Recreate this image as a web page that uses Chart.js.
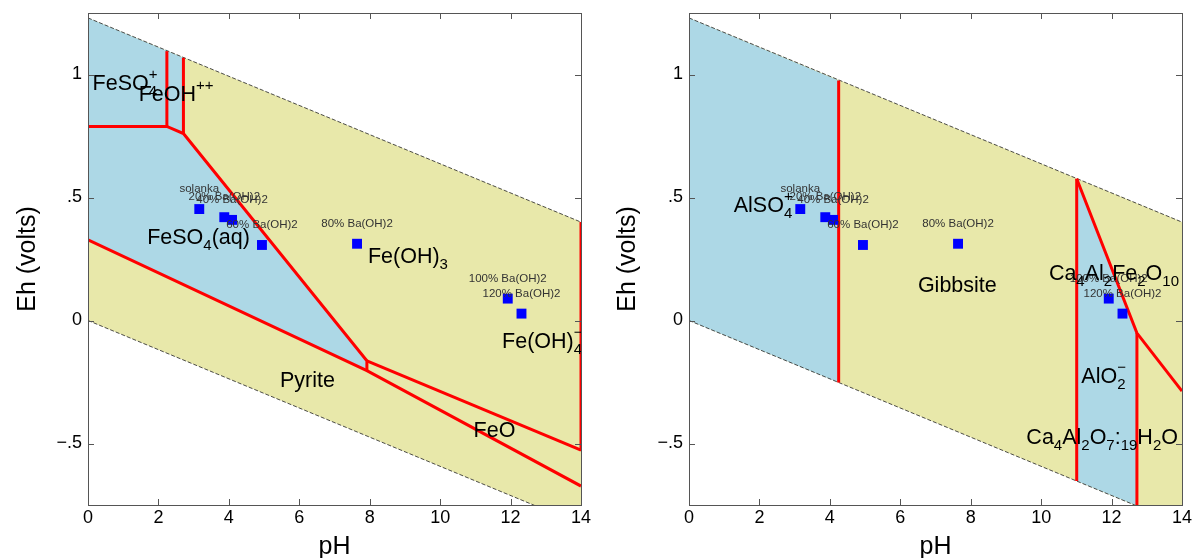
<!DOCTYPE html>
<html>
<head>
<meta charset="utf-8">
<script src="https://cdn.jsdelivr.net/npm/chart.js@4.4.1/dist/chart.umd.min.js"></script>
<style>
  html, body { margin: 0; padding: 0; background: #fff; }
  #wrap { position: relative; width: 1195px; height: 558px; }
  .panel { position: absolute; top: 0; height: 558px; }
</style>
</head>
<body>
<div id="wrap">
  <div class="panel" style="left:0;width:600px"><canvas id="feChart" width="600" height="558"></canvas></div>
  <div class="panel" style="left:600px;width:595px"><canvas id="alChart" width="595" height="558"></canvas></div>
</div>
<script>
// axis ticks
const phTicks      = [0, 2, 4, 6, 8, 10, 12, 14];
const ehTicks      = [-0.5, 0, 0.5, 1];
const ehTickLabels = ['\u2212.5', '0', '.5', '1'];

// samples (same points on both diagrams)
const sampleNames = ['solanka', '20% Ba(OH)2', '40% Ba(OH)2', '60% Ba(OH)2', '80% Ba(OH)2', '100% Ba(OH)2', '120% Ba(OH)2'];
const samplePH    = [3.16, 3.87, 4.09, 4.94, 7.64, 11.92, 12.31];
const sampleEh    = [0.453, 0.420, 0.409, 0.307, 0.312, 0.089, 0.028];

// water stability limits
const waterUpper = [[0, 1.23], [14, 0.40]];
const waterLower = [[0, 0], [14, -0.83]];
const waterField = [[0, 1.23], [14, 0.40], [14, -0.83], [0, 0]];

// Fe diagram
const feBlueFields = [
    [[0, 1.23], [2.71, 1.068], [2.71, 0.76], [7.92, -0.164], [7.92, -0.204], [0, 0.328]]
];
const feBoundaries = [
    [[0, 0.789], [2.24, 0.789], [2.71, 0.76], [7.92, -0.164], [7.92, -0.204]],
    [[2.24, 0.789], [2.24, 1.095]],
    [[2.71, 0.76], [2.71, 1.068]],
    [[0, 0.328], [7.92, -0.204], [14, -0.673]],
    [[7.92, -0.164], [14, -0.527]],
    [[14, -0.527], [14, 0.40]]
];
const feLabels = [
    { text: 'FeSO_{4}^{+}',    ph: 0.13,  eh: 0.935 },
    { text: 'FeOH^{++}',       ph: 1.44,  eh: 0.891 },
    { text: 'FeSO_{4}(aq)',    ph: 1.68,  eh: 0.31 },
    { text: 'Fe(OH)_{3}',      ph: 7.95,  eh: 0.235 },
    { text: 'Fe(OH)_{4}^{\u2212}', ph: 11.76, eh: -0.111 },
    { text: 'Pyrite',          ph: 5.45,  eh: -0.272 },
    { text: 'FeO',             ph: 10.95, eh: -0.473 }
];

// Al diagram
const alBlueFields = [
    [[0, 1.23], [4.25, 0.976], [4.25, -0.252], [0, 0]],
    [[11.01, 0.576], [12.72, -0.051], [12.72, -0.753], [11.01, -0.652]]
];
const alBoundaries = [
    [[4.25, 0.976], [4.25, -0.252]],
    [[11.01, 0.576], [11.01, -0.652]],
    [[11.01, 0.576], [12.72, -0.051], [14, -0.287]],
    [[12.72, -0.051], [12.72, -0.753]]
];
const alLabels = [
    { text: 'AlSO_{4}^{+}',               ph: 1.27,  eh: 0.442 },
    { text: 'Gibbsite',                   ph: 6.5,   eh: 0.116 },
    { text: 'Ca_{4}Al_{2}Fe_{2}O_{10}',   ph: 10.22, eh: 0.164 },
    { text: 'AlO_{2}^{\u2212}',           ph: 11.14, eh: -0.256 },
    { text: 'Ca_{4}Al_{2}O_{7}:_{19}H_{2}O', ph: 9.58, eh: -0.5 }
];

const FONT   = '"Liberation Sans", Arial, sans-serif';
const BLUE   = '#add8e6';
const YELLOW = '#e8e8aa';

const toXY = pts => pts.map(p => ({ x: p[0], y: p[1] }));

// text with _{sub} and ^{sup}; a sub directly followed by a sup is stacked
function drawRich(ctx, markup, x, y) {
    const parts = markup.match(/_\{[^}]*\}|\^\{[^}]*\}|[^_^]+/g);
    let cx = x, stackW = 0;
    for (let i = 0; i < parts.length; i++) {
        const p = parts[i];
        let kind = 'n', txt = p;
        if (p[0] === '_') { kind = 'sub'; txt = p.slice(2, -1); }
        else if (p[0] === '^') { kind = 'sup'; txt = p.slice(2, -1); }
        ctx.font = (kind === 'n' ? '21.5px ' : '15px ') + FONT;
        const w  = ctx.measureText(txt).width;
        const dy = kind === 'sub' ? 6 : kind === 'sup' ? -11 : 0;
        ctx.fillText(txt, cx, y + dy);
        const next = parts[i + 1];
        if (kind === 'sub' && next && next[0] === '^') { stackW = w; continue; }
        cx += Math.max(w, stackW);
        stackW = 0;
    }
}

function makeDecorPlugin(labels) {
    return {
        id: 'decor',
        afterDatasetsDraw(chart) {
            const { ctx, scales: { x, y } } = chart;
            ctx.save();
            ctx.fillStyle = '#333';
            ctx.font = '11.5px ' + FONT;
            ctx.textAlign = 'center';
            ctx.textBaseline = 'middle';
            sampleNames.forEach((name, i) => {
                ctx.fillText(name, x.getPixelForValue(samplePH[i]), y.getPixelForValue(sampleEh[i]) - 20);
            });
            ctx.fillStyle = '#000';
            ctx.textAlign = 'left';
            ctx.textBaseline = 'alphabetic';
            labels.forEach(l => drawRich(ctx, l.text, x.getPixelForValue(l.ph), y.getPixelForValue(l.eh)));
            ctx.restore();
        },
        afterDraw(chart) {
            const { ctx, chartArea: ca, scales: { x, y } } = chart;
            ctx.save();
            ctx.strokeStyle = '#555';
            ctx.lineWidth = 1;
            ctx.strokeRect(Math.round(ca.left) + 0.5, Math.round(ca.top) + 0.5,
                           Math.round(ca.right - ca.left), Math.round(ca.bottom - ca.top));
            ctx.beginPath();
            phTicks.forEach(v => {
                const px = Math.round(x.getPixelForValue(v)) + 0.5;
                ctx.moveTo(px, ca.bottom); ctx.lineTo(px, ca.bottom - 6);
                ctx.moveTo(px, ca.top);    ctx.lineTo(px, ca.top + 6);
            });
            ehTicks.forEach(v => {
                const py = Math.round(y.getPixelForValue(v)) + 0.5;
                ctx.moveTo(ca.left, py);  ctx.lineTo(ca.left + 6, py);
                ctx.moveTo(ca.right, py); ctx.lineTo(ca.right - 6, py);
            });
            ctx.stroke();
            ctx.restore();
        }
    };
}

function buildChart(canvasId, blueFields, boundaries, labels, axisWidth, padRight) {
    const datasets = [];

    datasets.push({
        data: samplePH.map((v, i) => ({ x: v, y: sampleEh[i] })),
        showLine: false, pointStyle: 'rect', pointRadius: 7, pointHoverRadius: 7,
        backgroundColor: '#0000ff', borderColor: '#0000ff', borderWidth: 0, order: 0
    });

    boundaries.forEach(b => datasets.push({
        data: toXY(b), borderColor: '#ff0000', borderWidth: 3,
        pointRadius: 0, fill: false, tension: 0, order: 1
    }));

    [waterUpper, waterLower].forEach(w => datasets.push({
        data: toXY(w), borderColor: '#222', borderWidth: 0.8, borderDash: [4, 2],
        pointRadius: 0, fill: false, order: 1.5
    }));

    blueFields.forEach(f => datasets.push({
        data: toXY(f), borderWidth: 0, borderColor: 'rgba(0,0,0,0)',
        backgroundColor: BLUE, pointRadius: 0, fill: 'shape', order: 2
    }));

    datasets.push({
        data: toXY(waterField), borderWidth: 0, borderColor: 'rgba(0,0,0,0)',
        backgroundColor: YELLOW, pointRadius: 0, fill: 'shape', order: 3
    });

    return new Chart(document.getElementById(canvasId), {
        type: 'line',
        data: { datasets },
        options: {
            responsive: false,
            animation: false,
            events: [],
            layout: { padding: { top: 13, right: padRight, left: 0, bottom: 0 } },
            plugins: { legend: { display: false }, tooltip: { enabled: false } },
            scales: {
                x: {
                    type: 'linear', min: 0, max: 14,
                    afterBuildTicks: s => { s.ticks = phTicks.map(v => ({ value: v })); },
                    afterFit: s => { s.height = 53; s.paddingLeft = 0; s.paddingRight = 0; },
                    grid: { display: false, drawTicks: false },
                    border: { display: false },
                    ticks: { color: '#000', padding: 2, font: { family: FONT, size: 18 }, maxRotation: 0 },
                    title: {
                        display: true, text: 'pH', color: '#000',
                        font: { family: FONT, size: 25, lineHeight: 1 }, padding: { top: 0, bottom: -2 }
                    }
                },
                y: {
                    type: 'linear', min: -0.75, max: 1.25,
                    afterBuildTicks: s => { s.ticks = ehTicks.map(v => ({ value: v })); },
                    afterFit: s => { s.width = axisWidth; s.paddingTop = 0; s.paddingBottom = 0; },
                    grid: { display: false, drawTicks: false },
                    border: { display: false },
                    ticks: {
                        color: '#000', padding: 6, font: { family: FONT, size: 18 },
                        callback: (v, i) => ehTickLabels[i]
                    },
                    title: {
                        display: true, text: 'Eh (volts)', color: '#000',
                        font: { family: FONT, size: 25, lineHeight: 1.2 }, padding: { top: 13, bottom: 0 }
                    }
                }
            }
        },
        plugins: [makeDecorPlugin(labels)]
    });
}

buildChart('feChart', feBlueFields, feBoundaries, feLabels, 88, 19);
buildChart('alChart', alBlueFields, alBoundaries, alLabels, 89, 13);
</script>
</body>
</html>
